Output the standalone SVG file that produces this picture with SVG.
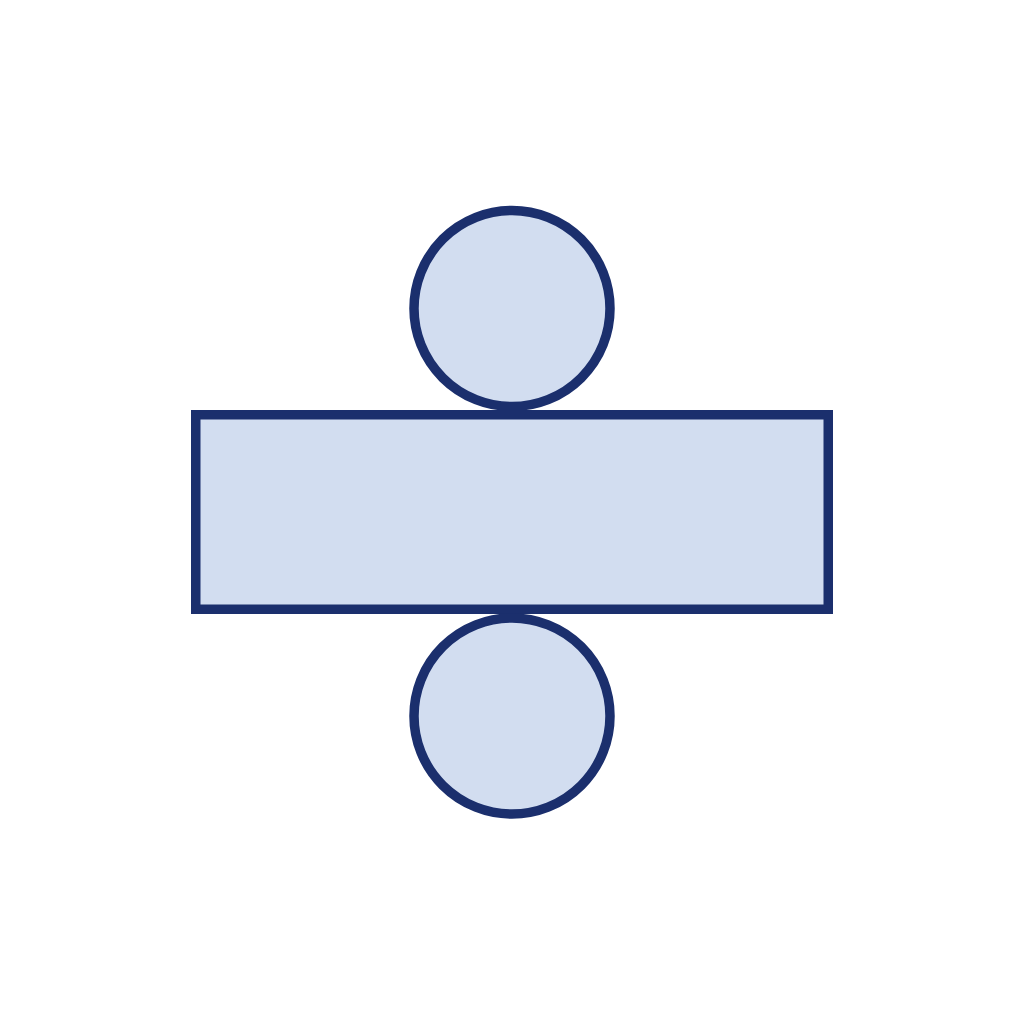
<svg xmlns="http://www.w3.org/2000/svg" width="1024" height="1024" viewBox="0 0 1024 1024">
<style>
.s{fill:#d2ddf0;stroke:#1b2f6d;stroke-width:9.5}
</style>
<rect width="1024" height="1024" fill="#ffffff"/>
<g id="top-circle"><circle class="s" cx="512" cy="308.5" r="98"/></g>
<g id="rectangle"><rect class="s" x="195.75" y="414.75" width="632.5" height="194.5"/></g>
<g id="bottom-circle"><circle class="s" cx="512" cy="716" r="98"/></g>
<g id="connectors"></g>
</svg>
